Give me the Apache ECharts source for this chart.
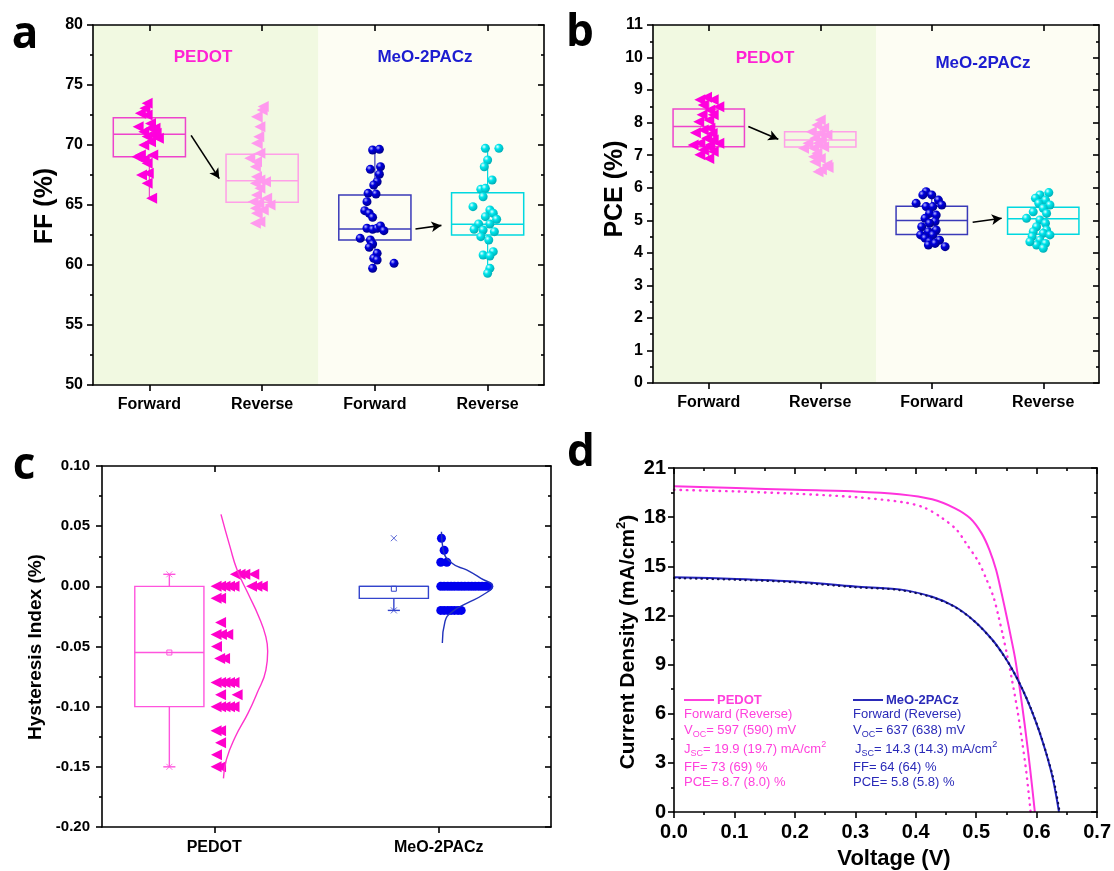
<!DOCTYPE html>
<html><head><meta charset="utf-8">
<script src="https://cdn.jsdelivr.net/npm/echarts@6/dist/echarts.min.js"></script>
<style>html,body{margin:0;padding:0;background:#fff}#c{width:1114px;height:871px}</style>
</head><body><div id="c"></div>
<script>
// ================= DATA =================
const catsAB = ['Forward', 'Reverse', 'Forward', 'Reverse'];
const catsC = ['PEDOT', 'MeO-2PACz'];

// Panel a: FF (%)  — values and horizontal jitter (category units)
const ffPedotFwdY  = [73.47,73.06,72.64,72.50,71.80,71.53,71.39,71.39,71.11,70.97,70.83,70.70,70.56,70.28,70.00,69.17,69.17,69.03,68.75,68.47,67.64,67.50,66.81,65.56];
const ffPedotFwdDx = [-0.02,-0.04,-0.08,-0.02,0.01,-0.10,0.01,0.05,-0.05,0.06,0.03,-0.02,0.08,0.01,-0.05,0.03,-0.08,-0.11,-0.05,-0.02,-0.01,-0.07,-0.02,0.02];
const ffPedotRevY  = [73.20,72.92,72.36,71.53,70.69,70.14,69.31,68.89,68.61,68.19,67.36,67.08,66.94,66.81,66.39,65.83,65.56,65.28,65.14,65.00,64.72,64.58,64.31,63.61,63.47];
const ffPedotRevDx = [0.01,0.00,-0.05,-0.02,-0.03,-0.05,-0.02,-0.11,-0.05,-0.06,-0.05,-0.02,0.03,-0.06,-0.02,-0.05,0.04,-0.08,-0.03,0.07,-0.06,0.01,-0.05,-0.02,-0.06];
const ffMeoFwdY    = [69.58,69.64,68.19,67.97,67.56,66.94,66.67,65.97,65.92,65.28,64.53,64.31,63.97,63.06,62.97,63.06,63.25,62.86,62.22,62.08,61.75,61.47,60.97,60.56,60.42,60.14,59.72];
const ffMeoFwdDx   = [-0.02,0.04,0.05,-0.04,0.04,0.02,-0.01,-0.06,0.01,-0.07,-0.09,-0.05,-0.02,-0.07,-0.02,0.02,0.05,0.08,-0.13,-0.04,-0.02,-0.05,0.02,-0.01,0.02,0.17,-0.02];
const ffMeoRevY    = [69.72,69.72,68.75,68.19,67.08,66.31,66.39,65.69,64.86,64.58,64.31,63.81,64.03,63.42,63.42,62.97,62.92,62.78,62.36,62.08,61.11,60.83,60.75,59.72,59.31];
const ffMeoRevDx   = [-0.02,0.10,0.00,-0.03,0.04,-0.06,-0.02,-0.04,-0.13,0.02,0.05,0.08,-0.02,-0.08,0.02,-0.12,-0.04,0.06,-0.06,0.01,0.05,-0.04,0.02,0.02,0.00];
// box stats: [whiskerLow, Q1, median, Q3, whiskerHigh]
const ffBoxPedotFwd = [65.5, 69.03, 70.89, 72.28, 73.5];
const ffBoxPedotRev = [63.5, 65.22, 67.03, 69.22, 73.2];
const ffBoxMeoFwd   = [59.7, 62.08, 63.00, 65.83, 69.6];
const ffBoxMeoRev   = [59.3, 62.50, 63.39, 66.03, 69.8];
const ffArrowPedot = [[0.37, 70.8], [0.62, 67.2]];
const ffArrowMeo   = [[2.36, 63.0], [2.59, 63.3]];

// Panel b: PCE (%)
const pcePedotFwdY  = [8.70,8.78,8.70,8.54,8.49,8.39,8.24,8.24,8.03,8.08,7.83,7.77,7.67,7.69,7.52,7.47,7.37,7.31,7.37,7.26,7.16,7.11,7.01,6.90,7.31];
const pcePedotFwdDx = [-0.08,-0.02,0.04,-0.05,0.09,0.01,-0.06,0.04,-0.09,0.00,0.01,-0.05,0.03,-0.12,-0.02,0.04,-0.08,-0.14,0.09,0.00,-0.05,0.04,-0.08,0.00,0.01];
const pcePedotRevY  = [8.08,7.93,7.83,7.72,7.67,7.62,7.52,7.47,7.37,7.37,7.21,7.26,7.21,7.06,6.95,6.90,6.80,6.70,6.62,6.55,6.49];
const pcePedotRevDx = [0.00,-0.03,0.03,-0.08,0.00,0.06,-0.05,0.01,-0.11,-0.02,-0.06,0.03,-0.15,-0.03,-0.06,0.00,-0.05,0.06,0.07,0.01,-0.02];
const pceMeoFwdY    = [5.88,5.78,5.78,5.62,5.52,5.47,5.42,5.42,5.21,5.16,5.06,4.96,4.91,4.80,4.70,4.65,4.55,4.55,4.45,4.39,4.34,4.24,4.19,4.29];
const pceMeoFwdDx   = [-0.05,0.00,-0.08,0.06,-0.14,0.09,-0.05,0.01,-0.02,0.04,-0.06,0.03,-0.02,-0.09,0.04,-0.03,-0.10,0.01,-0.06,0.07,-0.02,-0.03,0.12,0.03];
const pceMeoRevY    = [5.85,5.78,5.68,5.62,5.52,5.47,5.37,5.26,5.21,5.06,5.01,4.91,4.80,4.70,4.65,4.60,4.55,4.50,4.39,4.29,4.24,4.14,4.34];
const pceMeoRevDx   = [0.05,-0.03,-0.07,0.02,-0.04,0.06,0.00,-0.09,0.03,-0.15,-0.03,0.02,-0.06,0.03,-0.09,0.00,0.06,-0.10,-0.03,0.02,-0.06,0.00,-0.12];
const pceBoxPedotFwd = [6.90, 7.26, 7.88, 8.42, 8.78];
const pceBoxPedotRev = [6.49, 7.25, 7.47, 7.72, 8.08];
const pceBoxMeoFwd   = [4.19, 4.56, 4.99, 5.43, 5.88];
const pceBoxMeoRev   = [4.14, 4.57, 5.05, 5.40, 5.85];
const pceArrowPedot = [[0.355, 7.88], [0.624, 7.49]];
const pceArrowMeo   = [[2.367, 4.94], [2.627, 5.06]];

// Panel c: Hysteresis index
const hiPedotY  = [0.01,0.01,0.01,0.01, 0,0,0,0,0,0,0,0, -0.01,-0.01, -0.03, -0.04,-0.04,-0.04, -0.05, -0.06,-0.06, -0.08,-0.08,-0.08,-0.08,-0.08, -0.09,-0.09, -0.10,-0.10,-0.10,-0.10,-0.10, -0.12,-0.12, -0.13, -0.14, -0.15,-0.15];
const hiPedotDx = [0.094,0.115,0.136,0.176, 0.008,0.028,0.048,0.068,0.088,0.166,0.190,0.214, 0.008,0.028, 0.028, 0.008,0.032,0.060, 0.010, 0.024,0.046, 0.008,0.028,0.048,0.068,0.088, 0.028,0.102, 0.008,0.028,0.048,0.068,0.088, 0.008,0.028, 0.028, 0.010, 0.008,0.028];
const hiMeoY  = [0.04, 0.03, 0.02,0.02, 0,0,0,0,0,0,0,0,0,0,0,0,0,0,0, -0.02,-0.02,-0.02,-0.02,-0.02,-0.02,-0.02];
const hiMeoDx = [0.012, 0.024, 0.009,0.036, 0.009,0.024,0.040,0.055,0.070,0.086,0.101,0.116,0.132,0.147,0.162,0.178,0.193,0.208,0.223, 0.009,0.024,0.040,0.055,0.070,0.086,0.100];
// [whiskerLow, Q1, median, Q3, whiskerHigh, mean]
const hiBoxPedot = [-0.15, -0.10, -0.055, 0.00, 0.01, -0.055];
const hiBoxMeo   = [-0.02, -0.01, 0.00, 0.00, 0.00, -0.002];
const hiMarksPedot = [0.01, -0.15];
const hiMarksMeo   = [0.04, -0.02];
// fitted distribution curves: value and horizontal offset
const hiCurvePedotY  = [0.0598,0.033,0.0136,-0.0058,-0.025,-0.042,-0.054,-0.0696,-0.089,-0.1056,-0.125,-0.144,-0.1596];
const hiCurvePedotDx = [0.030,0.070,0.102,0.150,0.198,0.230,0.238,0.230,0.190,0.150,0.094,0.054,0.041];
const hiCurveMeoY  = [0.0454,0.030,0.019,0.0136,0.0066,0.0002,-0.0072,-0.0141,-0.021,-0.029,-0.047];
const hiCurveMeoDx = [0.012,0.020,0.061,0.124,0.188,0.239,0.196,0.124,0.061,0.028,0.016];

// Panel d: J-V curves
const jvPedotFwdV = [0,0.103,0.2,0.3,0.373,0.427,0.465,0.490,0.509,0.522,0.533,0.542,0.550,0.557,0.564,0.572,0.5805,0.589,0.597];
const jvPedotFwdJ = [19.88,19.78,19.67,19.57,19.40,19.09,18.54,17.93,17.01,15.99,14.77,13.35,12.00,10.75,9.45,7.55,5.25,2.70,0];
const jvPedotRevV = [0,0.103,0.2,0.3,0.381,0.414,0.442,0.468,0.484,0.503,0.517,0.529,0.537,0.544,0.551,0.559,0.5686,0.576,0.583,0.590];
const jvPedotRevJ = [19.67,19.57,19.43,19.22,18.90,18.58,17.99,17.21,16.36,15.32,14.20,13.08,11.92,10.80,9.60,8.10,6.12,4.30,2.40,0];
const jvMeoFwdV = [0,0.103,0.2,0.3,0.373,0.427,0.465,0.498,0.527,0.547,0.562,0.577,0.591,0.604,0.616,0.627,0.637];
const jvMeoFwdJ = [14.33,14.23,14.07,13.76,13.59,13.14,12.53,11.62,10.50,9.48,8.55,7.45,6.25,4.95,3.55,2.00,0];
const jvMeoRevV = [0,0.103,0.2,0.3,0.373,0.427,0.465,0.498,0.527,0.547,0.562,0.577,0.591,0.604,0.616,0.628,0.638];
const jvMeoRevJ = [14.28,14.18,14.02,13.72,13.55,13.11,12.51,11.61,10.49,9.47,8.55,7.46,6.27,4.98,3.58,1.98,0];

const legendPedot = ['Forward (Reverse)', '{n|V}{s|OC}{n|= 597 (590) mV}', '{n|J}{s|SC}{n|= 19.9 (19.7) mA/cm}{p|2}', 'FF= 73 (69) %', 'PCE= 8.7 (8.0) %'];
const legendMeo   = ['Forward (Reverse)', '{n|V}{s|OC}{n|= 637 (638) mV}', '{n|J}{s|SC}{n|= 14.3 (14.3) mA/cm}{p|2}', 'FF= 64 (64) %', 'PCE= 5.8 (5.8) %'];

// ================= STYLE =================
const FONT = '"Liberation Sans", Arial, Helvetica, sans-serif';
const AX = {color: '#000', width: 1.6};
const MAG = '#ff00dd', PINK = '#ff99ee';
const sphere = (hi, mid, lo) => ({type: 'radial', x: 0.35, y: 0.32, r: 0.75,
  colorStops: [{offset: 0, color: hi}, {offset: 0.35, color: mid}, {offset: 1, color: lo}]});

function yLeft(g, min, max, interval, fs, margin, fmt) {
  return {type: 'value', gridIndex: g, position: 'left', min, max, interval, z: 5,
    axisLine: {show: true, onZero: false, lineStyle: AX},
    axisTick: {show: true, inside: false, length: 6, lineStyle: AX},
    minorTick: {show: true, splitNumber: 2, length: 3, lineStyle: AX},
    splitLine: {show: false}, minorSplitLine: {show: false},
    axisLabel: {margin, color: '#000', fontFamily: FONT, fontWeight: 'bold', fontSize: fs, formatter: fmt}};
}
function yRight(g, min, max, interval) {
  return {type: 'value', gridIndex: g, position: 'right', min, max, interval, z: 5,
    axisLine: {show: true, onZero: false, lineStyle: AX},
    axisTick: {show: true, inside: true, length: 6, lineStyle: AX},
    minorTick: {show: true, splitNumber: 2, length: 3, lineStyle: AX},
    splitLine: {show: false}, axisLabel: {show: false}};
}
function xCat(g, cats, fs, margin) {
  const idx = cats.map((_, i) => i);
  return {type: 'value', gridIndex: g, position: 'bottom', min: -0.5, max: cats.length - 0.5, z: 5,
    axisLine: {show: true, onZero: false, lineStyle: AX},
    axisTick: {show: true, inside: false, length: 6, customValues: idx, lineStyle: AX},
    axisLabel: {customValues: idx, formatter: v => cats[Math.round(v)], margin, color: '#000',
      fontFamily: FONT, fontWeight: 'bold', fontSize: fs},
    splitLine: {show: false}};
}
function xCatTop(g, cats) {
  const idx = cats.map((_, i) => i);
  return {type: 'value', gridIndex: g, position: 'top', min: -0.5, max: cats.length - 0.5, z: 5,
    axisLine: {show: true, onZero: false, lineStyle: AX},
    axisTick: {show: true, inside: true, length: 6, customValues: idx, lineStyle: AX},
    axisLabel: {show: false}, splitLine: {show: false}};
}

const HW = 0.32;
function boxRenderer(colors) {
  return function (params, api) {
    const x = api.value(0), lo = api.value(1), q1 = api.value(2), md = api.value(3), q3 = api.value(4), hi = api.value(5);
    const c = colors[params.dataIndex];
    const a = api.coord([x - HW, q3]), b = api.coord([x + HW, q1]);
    const m1 = api.coord([x - HW, md]), m2 = api.coord([x + HW, md]);
    const t1 = api.coord([x, q3]), t2 = api.coord([x, hi]), u1 = api.coord([x, q1]), u2 = api.coord([x, lo]);
    const st = {stroke: c, lineWidth: 1.5, fill: 'none'};
    return {type: 'group', children: [
      {type: 'rect', shape: {x: a[0], y: a[1], width: b[0] - a[0], height: b[1] - a[1]}, style: st},
      {type: 'line', shape: {x1: m1[0], y1: m1[1], x2: m2[0], y2: m2[1]}, style: st},
      {type: 'line', shape: {x1: t1[0], y1: t1[1], x2: t2[0], y2: t2[1]}, style: {stroke: c, lineWidth: 1.2}},
      {type: 'line', shape: {x1: u1[0], y1: u1[1], x2: u2[0], y2: u2[1]}, style: {stroke: c, lineWidth: 1.2}}
    ]};
  };
}
const C_OFF = -0.2, C_HW = 0.154, C_CAP = 0.027;
function boxRendererC(colors) {
  return function (params, api) {
    const x = api.value(0) + C_OFF, lo = api.value(1), q1 = api.value(2), md = api.value(3), q3 = api.value(4), hi = api.value(5), mean = api.value(6);
    const c = colors[params.dataIndex];
    const a = api.coord([x - C_HW, q3]), b = api.coord([x + C_HW, q1]);
    const m1 = api.coord([x - C_HW, md]), m2 = api.coord([x + C_HW, md]);
    const t1 = api.coord([x, q3]), t2 = api.coord([x, hi]), u1 = api.coord([x, q1]), u2 = api.coord([x, lo]);
    const ch1 = api.coord([x - C_CAP, hi]), ch2 = api.coord([x + C_CAP, hi]);
    const cl1 = api.coord([x - C_CAP, lo]), cl2 = api.coord([x + C_CAP, lo]);
    const mp = api.coord([x, mean]);
    const st = {stroke: c, lineWidth: 1.4, fill: 'none'};
    const kids = [
      {type: 'rect', shape: {x: a[0], y: a[1], width: b[0] - a[0], height: b[1] - a[1]}, style: st},
      {type: 'line', shape: {x1: m1[0], y1: m1[1], x2: m2[0], y2: m2[1]}, style: st},
      {type: 'line', shape: {x1: t1[0], y1: t1[1], x2: t2[0], y2: t2[1]}, style: st},
      {type: 'line', shape: {x1: u1[0], y1: u1[1], x2: u2[0], y2: u2[1]}, style: st},
      {type: 'rect', shape: {x: mp[0] - 2.5, y: mp[1] - 2.5, width: 5, height: 5}, style: {stroke: c, lineWidth: 1, fill: 'none'}}
    ];
    if (hi > q3) kids.push({type: 'line', shape: {x1: ch1[0], y1: ch1[1], x2: ch2[0], y2: ch2[1]}, style: st});
    if (lo < q1) kids.push({type: 'line', shape: {x1: cl1[0], y1: cl1[1], x2: cl2[0], y2: cl2[1]}, style: st});
    return {type: 'group', children: kids};
  };
}

function pts(cat, ys, dxs) { return ys.map((y, i) => [cat + dxs[i], y]); }
function scatter(xi, yi, data, symbol, size, color, rot, extra) {
  return Object.assign({type: 'scatter', xAxisIndex: xi, yAxisIndex: yi, data, symbol, symbolSize: size,
    symbolRotate: rot || 0, itemStyle: {color, opacity: 1}, z: 3, silent: true}, extra || {});
}
function arrows(list) {
  return {silent: true, symbol: ['none', 'arrow'], symbolSize: [8, 10], label: {show: false},
    lineStyle: {color: '#000', width: 1.6, type: 'solid'},
    data: list.map(a => [{coord: a[0]}, {coord: a[1]}])};
}
const bgArea = {silent: true, label: {show: false}, data: [
  [{xAxis: -0.5, itemStyle: {color: '#f1f9e1'}}, {xAxis: 1.5}],
  [{xAxis: 1.5, itemStyle: {color: '#fdfdf3'}}, {xAxis: 3.5}]]};
const boxColorsAB = ['#ee44cc', '#ff9fe8', '#3a3ab8', '#00d8e0'];
const boxColorsC = ['#ff55dd', '#3344cc'];

const series = [
  // ---- panel a
  {type: 'custom', xAxisIndex: 0, yAxisIndex: 0, z: 2, silent: true, renderItem: boxRenderer(boxColorsAB),
    data: [[0, ...ffBoxPedotFwd], [1, ...ffBoxPedotRev], [2, ...ffBoxMeoFwd], [3, ...ffBoxMeoRev]], markArea: bgArea},
  scatter(0, 0, pts(0, ffPedotFwdY, ffPedotFwdDx), 'triangle', 11, MAG, 90, {markLine: arrows([ffArrowPedot, ffArrowMeo])}),
  scatter(0, 0, pts(1, ffPedotRevY, ffPedotRevDx), 'triangle', 11, PINK, 90),
  scatter(0, 0, pts(2, ffMeoFwdY, ffMeoFwdDx), 'circle', 9, sphere('#b8b8ff', '#0000dd', '#000080')),
  scatter(0, 0, pts(3, ffMeoRevY, ffMeoRevDx), 'circle', 9, sphere('#e8ffff', '#00e6ec', '#00a8b0')),
  // ---- panel b
  {type: 'custom', xAxisIndex: 2, yAxisIndex: 2, z: 2, silent: true, renderItem: boxRenderer(boxColorsAB),
    data: [[0, ...pceBoxPedotFwd], [1, ...pceBoxPedotRev], [2, ...pceBoxMeoFwd], [3, ...pceBoxMeoRev]], markArea: bgArea},
  scatter(2, 2, pts(0, pcePedotFwdY, pcePedotFwdDx), 'triangle', 11, MAG, 90, {markLine: arrows([pceArrowPedot, pceArrowMeo])}),
  scatter(2, 2, pts(1, pcePedotRevY, pcePedotRevDx), 'triangle', 11, PINK, 90),
  scatter(2, 2, pts(2, pceMeoFwdY, pceMeoFwdDx), 'circle', 9, sphere('#b8b8ff', '#0000dd', '#000080')),
  scatter(2, 2, pts(3, pceMeoRevY, pceMeoRevDx), 'circle', 9, sphere('#e8ffff', '#00e6ec', '#00a8b0')),
  // ---- panel c
  {type: 'custom', xAxisIndex: 4, yAxisIndex: 4, z: 2, silent: true, renderItem: boxRendererC(boxColorsC),
    data: [[0, ...hiBoxPedot], [1, ...hiBoxMeo]]},
  scatter(4, 4, hiMarksPedot.map(v => [C_OFF, v]), 'path://M0,0L10,10M10,0L0,10', 6, 'none', 0,
    {itemStyle: {color: 'none', borderColor: '#ff55dd', borderWidth: 1}}),
  scatter(4, 4, hiMarksMeo.map(v => [1 + C_OFF, v]), 'path://M0,0L10,10M10,0L0,10', 6, 'none', 0,
    {itemStyle: {color: 'none', borderColor: '#3344cc', borderWidth: 1}}),
  scatter(4, 4, pts(0, hiPedotY, hiPedotDx), 'triangle', 11, '#ff00cc', 90),
  scatter(4, 4, pts(1, hiMeoY, hiMeoDx), 'circle', 9, '#0000ee'),
  {type: 'line', xAxisIndex: 4, yAxisIndex: 4, data: pts(0, hiCurvePedotY, hiCurvePedotDx), smooth: 0.5, showSymbol: false,
    lineStyle: {color: '#ff33cc', width: 1.4}, z: 4, silent: true},
  {type: 'line', xAxisIndex: 4, yAxisIndex: 4, data: pts(1, hiCurveMeoY, hiCurveMeoDx), smooth: 0.5, showSymbol: false,
    lineStyle: {color: '#2233bb', width: 1.4}, z: 4, silent: true},
  // ---- panel d
  {type: 'line', xAxisIndex: 6, yAxisIndex: 6, data: jvPedotFwdV.map((v, i) => [v, jvPedotFwdJ[i]]), smooth: 0.3, showSymbol: false,
    lineStyle: {color: '#ff33dd', width: 2}, silent: true},
  {type: 'line', xAxisIndex: 6, yAxisIndex: 6, data: jvPedotRevV.map((v, i) => [v, jvPedotRevJ[i]]), smooth: 0.3, showSymbol: false,
    lineStyle: {color: '#ff33dd', width: 2.4, type: [0.5, 6], cap: 'round'}, silent: true},
  {type: 'line', xAxisIndex: 6, yAxisIndex: 6, data: jvMeoFwdV.map((v, i) => [v, jvMeoFwdJ[i]]), smooth: 0.3, showSymbol: false,
    lineStyle: {color: '#2424c0', width: 2}, silent: true},
  {type: 'line', xAxisIndex: 6, yAxisIndex: 6, data: jvMeoRevV.map((v, i) => [v, jvMeoRevJ[i]]), smooth: 0.3, showSymbol: false,
    lineStyle: {color: '#10105a', width: 2.2, type: [0.5, 5], cap: 'round'}, silent: true}
];

const fmt2 = v => (Math.abs(v) < 1e-9 ? 0 : v).toFixed(2);
const fmt1 = v => (Math.abs(v) < 1e-9 ? 0 : v).toFixed(1);

function txt(x, y, text, size, color, extra) {
  return Object.assign({type: 'text', x, y, z: 100, silent: true,
    style: {text, fontSize: size, fontFamily: FONT, fontWeight: 'bold', fill: color || '#000',
      align: 'center', verticalAlign: 'middle', textAlign: 'center', textVerticalAlign: 'middle'}}, extra || {});
}
function letter(x, y, t) {
  return {type: 'text', x, y, z: 100, silent: true,
    style: {text: t, fontSize: 44, fontWeight: 'bold', fontFamily: '"Open Sans", sans-serif', fill: '#000',
      align: 'center', verticalAlign: 'middle', textAlign: 'center', textVerticalAlign: 'middle'}};
}
const richLeg = (c) => ({n: {fontSize: 13, fontFamily: FONT, fill: c, color: c, lineHeight: 18},
  s: {fontSize: 9, fontFamily: FONT, fill: c, color: c, verticalAlign: 'bottom'},
  p: {fontSize: 9, fontFamily: FONT, fill: c, color: c, verticalAlign: 'top'}});
function legendBlock(x, xJ, lines, color, name) {
  const ys = [714, 730, 749, 767, 782];
  const out = [
    {type: 'line', silent: true, z: 100, shape: {x1: x, y1: 700, x2: x + 30, y2: 700}, style: {stroke: color, lineWidth: 2}},
    {type: 'text', x: x + 33, y: 700, z: 100, silent: true, style: {text: name, fontSize: 13, fontWeight: 'bold', fontFamily: FONT, fill: color,
      align: 'left', verticalAlign: 'middle', textAlign: 'left', textVerticalAlign: 'middle'}}
  ];
  lines.forEach((t, i) => {
    out.push({type: 'text', x: i === 2 ? xJ : x, y: ys[i], z: 100, silent: true,
      style: {text: t, fontSize: 13, fontFamily: FONT, fill: color, rich: richLeg(color),
        align: 'left', verticalAlign: 'middle', textAlign: 'left', textVerticalAlign: 'middle'}});
  });
  return out;
}

const graphic = [
  letter(25, 35, 'a'), letter(580, 33, 'b'), letter(24, 466, 'c'), letter(581, 453, 'd'),
  txt(45, 206, 'FF (%)', 25, '#000', {rotation: Math.PI / 2}),
  txt(615, 189, 'PCE (%)', 25, '#000', {rotation: Math.PI / 2}),
  txt(36, 647, 'Hysteresis Index (%)', 19, '#000', {rotation: Math.PI / 2}),
  {type: 'text', x: 628, y: 642, rotation: Math.PI / 2, z: 100, silent: true,
    style: {text: '{t|Current Density (mA/cm}{p|2}{t|)}', fill: '#000', align: 'center', verticalAlign: 'middle',
      textAlign: 'center', textVerticalAlign: 'middle',
      rich: {t: {fontSize: 21, fontWeight: 'bold', fontFamily: FONT, lineHeight: 26},
             p: {fontSize: 13, fontWeight: 'bold', fontFamily: FONT, verticalAlign: 'top'}}}},
  txt(894, 859, 'Voltage (V)', 22),
  txt(203, 57, 'PEDOT', 17, '#ff22d4'),
  txt(425, 57, 'MeO-2PACz', 17, '#1c1cd0'),
  txt(765, 58, 'PEDOT', 17, '#ff22d4'),
  txt(983, 63, 'MeO-2PACz', 17, '#1c1cd0'),
  ...legendBlock(684, 684, legendPedot, '#ff40dc', 'PEDOT'),
  ...legendBlock(853, 855, legendMeo, '#2a2ab8', 'MeO-2PACz')
];

const option = {
  animation: false,
  backgroundColor: '#ffffff',
  grid: [
    {left: 93, top: 25, width: 451, height: 360},
    {left: 653, top: 25, width: 446, height: 358},
    {left: 102, top: 466, width: 449, height: 361},
    {left: 674, top: 468, width: 429, height: 344}
  ],
  xAxis: [
    xCat(0, catsAB, 16, 12), xCatTop(0, catsAB),
    xCat(1, catsAB, 16, 12), xCatTop(1, catsAB),
    xCat(2, catsC, 16, 13), xCatTop(2, catsC),
    {type: 'value', gridIndex: 3, position: 'bottom', min: 0, max: 0.7, interval: 0.1, z: 5,
      axisLine: {show: true, onZero: false, lineStyle: AX},
      axisTick: {show: true, inside: false, length: 6, lineStyle: AX},
      minorTick: {show: true, splitNumber: 2, length: 3, lineStyle: AX},
      splitLine: {show: false},
      axisLabel: {margin: 10, color: '#000', fontFamily: FONT, fontWeight: 'bold', fontSize: 20, formatter: fmt1}},
    {type: 'value', gridIndex: 3, position: 'top', min: 0, max: 0.7, interval: 0.1, z: 5,
      axisLine: {show: true, onZero: false, lineStyle: AX},
      axisTick: {show: true, inside: true, length: 6, lineStyle: AX},
      minorTick: {show: true, splitNumber: 2, length: 3, lineStyle: AX},
      splitLine: {show: false}, axisLabel: {show: false}}
  ],
  yAxis: [
    yLeft(0, 50, 80, 5, 16, 10), yRight(0, 50, 80, 5),
    yLeft(1, 0, 11, 1, 16, 10), yRight(1, 0, 11, 1),
    yLeft(2, -0.2, 0.1, 0.05, 15, 12, fmt2), yRight(2, -0.2, 0.1, 0.05),
    yLeft(3, 0, 21, 3, 20, 8), yRight(3, 0, 21, 3)
  ],
  series,
  graphic
};

const chart = echarts.init(document.getElementById('c'), null, {renderer: 'canvas'});
chart.setOption(option);
</script>
</body></html>
